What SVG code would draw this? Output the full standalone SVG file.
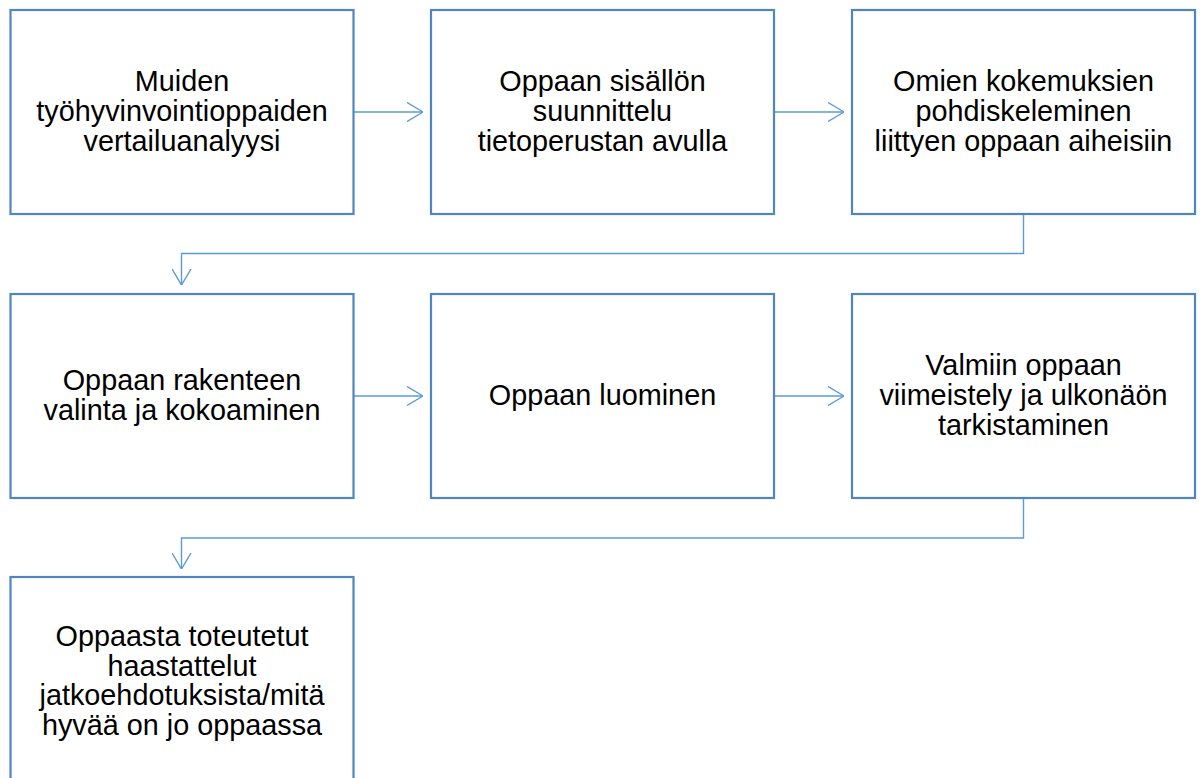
<svg xmlns="http://www.w3.org/2000/svg" width="1202" height="778" viewBox="0 0 1202 778">
<defs>
<style>
.box{fill:#ffffff;stroke:#4f86c2;stroke-width:2.2}
.lbl{font-family:"Liberation Sans",Arial,sans-serif;font-size:28.8px;fill:#000000;text-anchor:middle}
.con{fill:none;stroke:#5b9bd5;stroke-width:1.4}
</style>
<marker id="arr" viewBox="0 0 16 20" refX="16" refY="10" markerWidth="16" markerHeight="20" markerUnits="userSpaceOnUse" orient="auto">
<path d="M0,0.5 L16,10 L0,19.5" fill="none" stroke="#5b9bd5" stroke-width="1.4"/>
</marker>
</defs>
<rect width="1202" height="778" fill="#ffffff"/>
<g id="connectors">
<path class="con" d="M353,112 H423" marker-end="url(#arr)"/>
<path class="con" d="M774,112 H844" marker-end="url(#arr)"/>
<path class="con" d="M1023.5,215 V253.5 H181.5 V285" marker-end="url(#arr)"/>
<path class="con" d="M353,396 H423" marker-end="url(#arr)"/>
<path class="con" d="M774,396 H844" marker-end="url(#arr)"/>
<path class="con" d="M1023.5,499 V538 H181.5 V569" marker-end="url(#arr)"/>
</g>
<g id="n1"><rect class="box" x="10.5" y="10" width="343" height="204"/>
<text class="lbl" x="182" y="91">Muiden</text><text class="lbl" x="182" y="121">työhyvinvointioppaiden</text><text class="lbl" x="182" y="150.5">vertailuanalyysi</text></g>
<g id="n2"><rect class="box" x="431" y="10" width="343" height="204"/>
<text class="lbl" x="602.5" y="91">Oppaan sisällön</text><text class="lbl" x="602.5" y="121">suunnittelu</text><text class="lbl" x="602.5" y="150.5">tietoperustan avulla</text></g>
<g id="n3"><rect class="box" x="852" y="10" width="343" height="204"/>
<text class="lbl" x="1023.5" y="91">Omien kokemuksien</text><text class="lbl" x="1023.5" y="121">pohdiskeleminen</text><text class="lbl" x="1023.5" y="150.5">liittyen oppaan aiheisiin</text></g>
<g id="n4"><rect class="box" x="10.5" y="294" width="343" height="204"/>
<text class="lbl" x="182" y="390">Oppaan rakenteen</text><text class="lbl" x="182" y="420">valinta ja kokoaminen</text></g>
<g id="n5"><rect class="box" x="431" y="294" width="343" height="204"/>
<text class="lbl" x="602.5" y="405">Oppaan luominen</text></g>
<g id="n6"><rect class="box" x="852" y="294" width="343" height="204"/>
<text class="lbl" x="1023.5" y="375">Valmiin oppaan</text><text class="lbl" x="1023.5" y="405">viimeistely ja ulkonäön</text><text class="lbl" x="1023.5" y="434.5">tarkistaminen</text></g>
<g id="n7"><rect class="box" x="10.5" y="577" width="343" height="204"/>
<text class="lbl" x="182" y="646">Oppaasta toteutetut</text><text class="lbl" x="182" y="675.5">haastattelut</text><text class="lbl" x="182" y="705">jatkoehdotuksista/mitä</text><text class="lbl" x="182" y="734.5">hyvää on jo oppaassa</text></g>
</svg>
